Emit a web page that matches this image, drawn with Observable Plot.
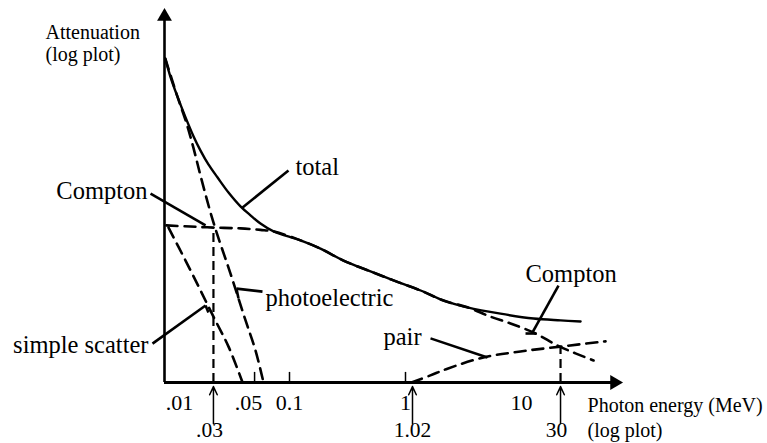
<!DOCTYPE html>
<html><head><meta charset="utf-8">
<script src="https://cdn.jsdelivr.net/npm/d3@7"></script>
<script src="https://cdn.jsdelivr.net/npm/@observablehq/plot@0.6"></script>
<style>
body{margin:0;background:#fff}
svg, svg text{font-family:"Liberation Serif","DejaVu Serif","Times New Roman",serif !important}
</style>
</head><body><div id="chart"></div>
<script>
// Photon energy (MeV, log) vs attenuation (relative log units, 0–100)
const xAxisRange = [0.008365, 71.35];
const yAxisRange = [0, 100];

const totalEnergy = [0.0085, 0.0094, 0.0108, 0.0127, 0.0149, 0.0171, 0.0200, 0.0240, 0.0298, 0.0378, 0.0461, 0.0562, 0.0728, 0.1245, 0.185, 0.292, 0.499, 0.788, 1.35, 2.13, 3.42, 6.59, 12.7, 21.7, 32.3];
const totalAtten  = [86.6, 81.8, 76.5, 70.9, 65.8, 62.0, 58.3, 54.8, 50.8, 47.1, 44.7, 42.5, 40.4, 38.0, 35.8, 32.6, 29.7, 27.3, 24.6, 21.9, 20.1, 18.4, 17.1, 16.6, 16.3];

const comptonEnergy = [0.0087, 0.0140, 0.0230, 0.0378, 0.0562, 0.0728, 0.1245, 0.185, 0.292, 0.499, 0.788, 1.35, 2.13, 3.42, 5.41, 8.04, 13.2, 20.4, 29.2, 41.8];
const comptonAtten  = [42.0, 41.7, 41.4, 41.2, 40.8, 40.4, 38.0, 35.8, 32.6, 29.7, 27.3, 24.6, 21.9, 20.1, 17.6, 15.8, 13.1, 9.9, 7.8, 5.9];

const photoEnergy = [0.0085, 0.0108, 0.0129, 0.0149, 0.0171, 0.0221, 0.0310, 0.0418, 0.0509, 0.0597];
const photoAtten  = [86.6, 76.5, 69.5, 62.6, 55.3, 42.8, 29.1, 16.6, 8.6, 0];

const scatterEnergy = [0.00906, 0.0127, 0.0171, 0.0221, 0.0298, 0.0394];
const scatterAtten  = [41.4, 32.6, 24.6, 17.6, 9.6, 0];

const pairEnergy = [1.126, 1.64, 2.30, 4.70, 9.80, 21.7, 53.0];
const pairAtten  = [0, 1.9, 3.7, 6.7, 8.3, 9.6, 11.0];

// axis ticks and labels
const tickMarks = [0.05, 0.1, 1];
const tickValues = [0.01, 0.05, 0.1, 1, 10];
const tickLabels = [".01", ".05", "0.1", "1", "10"];
const tickShift = [6, -6, 0, 0, 0];

// marked energies (arrows under axis)
const markerEnergy = [0.0221, 1.149, 21.7];
const markerLabels = [".03", "1.02", "30"];
const markerHeight = [41.4, 0, 9.6];
const markerShift = [-4, 0, -4];

// curve labels and leaders (leader segments incl. small end hooks)
const labelText   = ["total", "Compton", "photoelectric", "simple scatter", "Compton", "pair"];
const labelEnergy = [0.1126, 0.00597, 0.0621, 0.00609, 10.83, 0.646];
const labelAtten  = [57.5, 51.1, 22.5, 9.9, 29.1, 12.0];
const labelAnchor = ["start", "end", "start", "end", "start", "start"];
const leaderX1 = [0.0980, 0.00634, 0.0585, 0.0349, 0.00659, 0.0189, 20.84, 10.83, 1.643];
const leaderY1 = [56.7, 50.5, 24.3, 25.1, 10.4, 20.6, 25.9, 13.1, 11.8];
const leaderX2 = [0.0394, 0.0189, 0.0349, 0.0363, 0.0189, 0.0200, 12.44, 13.46, 5.09];
const leaderY2 = [46.8, 42.0, 25.1, 22.5, 20.6, 18.7, 13.4, 13.1, 6.7];

// axis titles
const yTitle = ["Attenuation", "(log plot)"];
const yTitleEnergy = [0.000788, 0.000788];
const yTitleAtten = [93.6, 87.7];
const xTitle = ["Photon energy (MeV)", "(log plot)"];
const xTitleEnergy = [37.07, 37.07];
const xTitleAtten = [-6.1, -12.8];

const FONT = "'Liberation Serif', 'DejaVu Serif', 'Times New Roman', serif";
const pts = (xs, ys) => xs.map((x, i) => ({x, y: ys[i]}));
const labels = labelText.map((t, i) => ({t, x: labelEnergy[i], y: labelAtten[i], a: labelAnchor[i]}));
const leaders = leaderX1.map((x1, i) => ({x1, y1: leaderY1[i], x2: leaderX2[i], y2: leaderY2[i]}));
const ticks = tickValues.map((v, i) => ({v, t: tickLabels[i], s: tickShift[i]}));
const markers = markerEnergy.map((v, i) => ({v, t: markerLabels[i], h: markerHeight[i], s: markerShift[i]}));

const dash = "11,7";
const plot = Plot.plot({
  width: 767, height: 443,
  marginLeft: 164, marginRight: 147, marginTop: 8, marginBottom: 61,
  x: {type: "log", domain: xAxisRange, axis: null},
  y: {domain: yAxisRange, axis: null},
  style: {fontFamily: FONT, background: "white", color: "black"},
  marks: [
    // axes
    Plot.ruleX([xAxisRange[0]], {y1: yAxisRange[0], y2: yAxisRange[1] - 3, strokeWidth: 2.6}),
    Plot.ruleY([yAxisRange[0]], {x1: xAxisRange[0], x2: xAxisRange[1] * 0.9, strokeWidth: 3.2}),
    Plot.dot([{x: xAxisRange[0], y: yAxisRange[1]}], {x: "x", y: "y", symbol: "triangle", r: 5.5, fill: "black", stroke: null, dy: 8}),
    Plot.dot([{x: xAxisRange[1], y: yAxisRange[0]}], {x: "x", y: "y", symbol: "triangle", r: 5.5, fill: "black", stroke: null, rotate: 90, dx: -6}),
    Plot.ruleX(tickMarks, {y1: 0, y2: 2.7, strokeWidth: 1.5}),
    // curves
    Plot.line(pts(totalEnergy, totalAtten), {x: "x", y: "y", curve: "catmull-rom", strokeWidth: 2.4}),
    Plot.line(pts(comptonEnergy, comptonAtten), {x: "x", y: "y", curve: "catmull-rom", strokeWidth: 2.6, strokeDasharray: dash}),
    Plot.line(pts(photoEnergy, photoAtten), {x: "x", y: "y", curve: "catmull-rom", strokeWidth: 2.6, strokeDasharray: dash}),
    Plot.line(pts(scatterEnergy, scatterAtten), {x: "x", y: "y", curve: "catmull-rom", strokeWidth: 2.6, strokeDasharray: dash}),
    Plot.line(pts(pairEnergy, pairAtten), {x: "x", y: "y", curve: "catmull-rom", strokeWidth: 2.6, strokeDasharray: dash}),
    Plot.ruleX(markers.filter(d => d.h > 0), {x: "v", y1: 0, y2: "h", strokeWidth: 2.2, strokeDasharray: "9,5"}),
    // marker arrows and labels
    Plot.arrow(markers, {x1: "v", x2: "v", y1: -11, y2: -1.1, strokeWidth: 1.5, headLength: 9, headAngle: 50}),
    ...markers.map(d => Plot.text([d], {x: "v", y: 0, text: "t", dy: 48, dx: d.s, fontSize: 21.5, fontFamily: FONT})),
    ...ticks.map(d => Plot.text([d], {x: "v", y: 0, text: "t", dy: 20, dx: d.s, fontSize: 22, fontFamily: FONT})),
    // leaders and labels
    Plot.link(leaders, {x1: "x1", y1: "y1", x2: "x2", y2: "y2", strokeWidth: 2.6}),
    Plot.text(labels, {x: "x", y: "y", text: "t", textAnchor: "start", fontSize: 24.5, fontFamily: FONT, filter: d => d.a === "start"}),
    Plot.text(labels, {x: "x", y: "y", text: "t", textAnchor: "end", fontSize: 24.5, fontFamily: FONT, filter: d => d.a === "end"}),
    Plot.text(yTitle, {x: (d, i) => yTitleEnergy[i], y: (d, i) => yTitleAtten[i], text: d => d, textAnchor: "start", fontSize: 20, fontFamily: FONT}),
    Plot.text(xTitle, {x: (d, i) => xTitleEnergy[i], y: (d, i) => xTitleAtten[i], text: d => d, textAnchor: "start", fontSize: 20, fontFamily: FONT})
  ]
});
document.getElementById("chart").append(plot);
</script>
</body></html>
